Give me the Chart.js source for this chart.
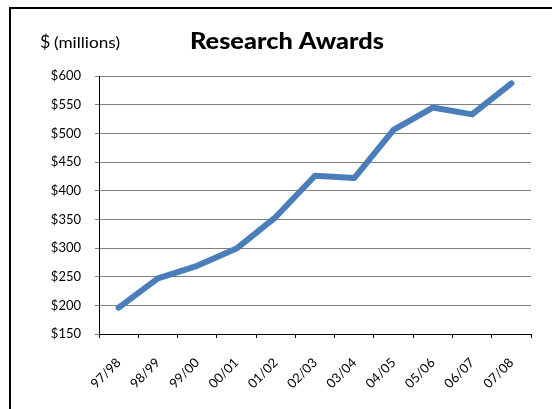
<!DOCTYPE html>
<html>
<head>
<meta charset="utf-8">
<script src="https://cdn.jsdelivr.net/npm/chart.js@4/dist/chart.umd.min.js"></script>
<style>
  html, body { margin: 0; padding: 0; background: #fff; overflow: hidden; }
  #wrap { position: relative; width: 552px; height: 409px; }
  #frame { position: absolute; left: 9px; top: 7px; width: 600px; height: 500px;
           border-left: 2px solid #000; border-top: 2px solid #000; box-sizing: border-box; }
  canvas { position: absolute; left: 0; top: 0; }
</style>
</head>
<body>
<div id="wrap">
  <div id="frame"></div>
  <canvas id="c" width="552" height="409"></canvas>
</div>
<script>
const categories = ["97/98","98/99","99/00","00/01","01/02","02/03","03/04","04/05","05/06","06/07","07/08"];
const awards = [196, 247, 269, 299, 354, 426, 422, 506, 545, 533, 587];
const yMin = 150, yMax = 600, yStep = 50;
const titleText = "Research Awards";
const unitSymbol = "$";
const unitText = "(millions)";

const FONT = "Lato, 'Open Sans', sans-serif";

const textPlugin = {
  id: 'texts',
  afterDraw(chart) {
    const ctx = chart.ctx;
    ctx.save();
    ctx.fillStyle = '#000';
    ctx.textBaseline = 'alphabetic';
    ctx.textAlign = 'left';
    ctx.font = "900 22px " + FONT;
    const w = ctx.measureText(titleText).width;
    ctx.save();
    ctx.translate(190, 49);
    ctx.scale(194 / w, 1);
    ctx.fillText(titleText, 0, 0);
    ctx.restore();
    ctx.font = "18px " + FONT;
    ctx.fillText(unitSymbol, 40, 48);
    ctx.font = "15px " + FONT;
    const w2 = ctx.measureText(unitText).width;
    ctx.translate(54, 48);
    ctx.scale(66 / w2, 1);
    ctx.fillText(unitText, 0, 0);
    ctx.restore();
  }
};

new Chart(document.getElementById('c'), {
  type: 'line',
  data: {
    labels: categories,
    datasets: [{
      data: awards,
      borderColor: '#4a7ebb',
      borderWidth: 6,
      pointRadius: 0,
      tension: 0,
      borderCapStyle: 'round',
      borderJoinStyle: 'round',
      fill: false
    }]
  },
  options: {
    responsive: false,
    animation: false,
    devicePixelRatio: 1,
    layout: { padding: { left: 0, right: 21, top: 76, bottom: 0 } },
    plugins: { legend: { display: false }, title: { display: false }, tooltip: { enabled: false } },
    scales: {
      x: {
        offset: true,
        grid: { offset: true, drawOnChartArea: false, drawTicks: true, tickLength: 4, color: '#000' },
        border: { display: true, color: '#000', width: 1 },
        ticks: { minRotation: 45, maxRotation: 45, color: '#000', font: { family: FONT, size: 13 }, padding: 17, autoSkip: false },
        afterFit(s) { s.height = 75; }
      },
      y: {
        min: yMin, max: yMax,
        grid: { color: '#808080', tickLength: 4, drawTicks: true },
        border: { display: true, color: '#000', width: 1 },
        ticks: { stepSize: yStep, color: '#000', font: { family: FONT, size: 13 }, padding: 14,
                 callback: v => '$' + v },
        afterFit(s) { s.width = 99; }
      }
    }
  },
  plugins: [textPlugin]
});
</script>
</body>
</html>
